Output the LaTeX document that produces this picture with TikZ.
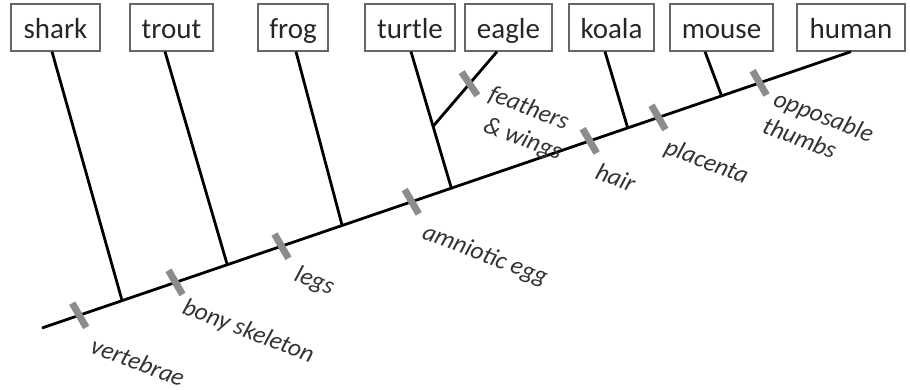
\documentclass[tikz,border=0pt]{standalone}
\usepackage{fontspec}
\setmainfont{Carlito}
\begin{document}
\begin{tikzpicture}[x=1pt,y=1pt,
  box/.style={draw=black!60, line width=1.3pt, minimum height=47pt, inner sep=0pt, text height=25pt, text depth=3pt, font=\fontsize{29}{30}\selectfont, text=black!85},
  branch/.style={line width=2.8pt, black},
  tickmark/.style={fill=black!45, minimum width=7pt, minimum height=28pt, inner sep=0pt, rotate=30},
  lab/.style={font=\fontsize{25}{26}\selectfont\itshape, text=black!80, rotate=-21, anchor=base west, inner sep=0pt}]
\useasboundingbox (0,0) rectangle (910,389);
% taxa boxes
\node[box, minimum width=89pt]  (shark)  at (55.5,361.5) {shark};
\node[box, minimum width=83pt]  (trout)  at (171.5,361.5) {trout};
\node[box, minimum width=70pt]  (frog)   at (293,361.5) {frog};
\node[box, minimum width=90pt]  (turtle) at (410,361.5) {turtle};
\node[box, minimum width=87pt]  (eagle)  at (508.5,361.5) {eagle};
\node[box, minimum width=85pt]  (koala)  at (611.5,361.5) {koala};
\node[box, minimum width=103pt] (mouse)  at (721.5,361.5) {mouse};
\node[box, minimum width=108pt] (human)  at (851,361.5) {human};
% main line
\coordinate (L0) at (42,61);
\draw[branch] (L0) --
  coordinate[pos=0.046] (t1)
  coordinate[pos=0.099] (j1)
  coordinate[pos=0.165] (t2)
  coordinate[pos=0.229] (j2)
  coordinate[pos=0.296] (t3)
  coordinate[pos=0.371] (j3)
  coordinate[pos=0.457] (t4)
  coordinate[pos=0.506] (j4)
  coordinate[pos=0.677] (t5)
  coordinate[pos=0.724] (j5)
  coordinate[pos=0.762] (t6)
  coordinate[pos=0.840] (j6)
  coordinate[pos=0.887] (t7)
  (human.south);
% branches
\draw[branch] ([xshift=-3.5pt]shark.south) -- (j1);
\draw[branch] ([xshift=-6.5pt]trout.south) -- (j2);
\draw[branch] ([xshift=3pt]frog.south) -- (j3);
\draw[branch] ([xshift=1pt]turtle.south) -- coordinate[pos=0.547] (je) (j4);
\draw[branch] ([xshift=-11.5pt]eagle.south) -- coordinate[pos=0.43] (tf) (je);
\draw[branch] ([xshift=-6.5pt]koala.south) -- (j5);
\draw[branch] ([xshift=-16.5pt]mouse.south) -- (j6);
% ticks
\foreach \t in {t1,t2,t3,t4,t5,t6,t7}{\node[tickmark] at (\t) {};}
\node[tickmark, rotate=4] at (tf) {};
% labels
\node[lab] (lv) at (89,37) {vertebrae};
\node[lab] (lb) at (181,76) {bony skeleton};
\node[lab] (ll) at (293,109) {legs};
\node[lab] (la) at (421,151) {amniotic egg};
\node[lab] (lh) at (594,211) {hair};
\node[lab] (lp) at (663,236) {placenta};
\node[lab] (lo) at (772,284) {opposable};
\node[lab] (lt) at (761,257) {thumbs};
\node[lab] (lf) at (487,289) {feathers};
\node[lab] (lw) at (482,258) {\& wings};
\end{tikzpicture}
\end{document}
